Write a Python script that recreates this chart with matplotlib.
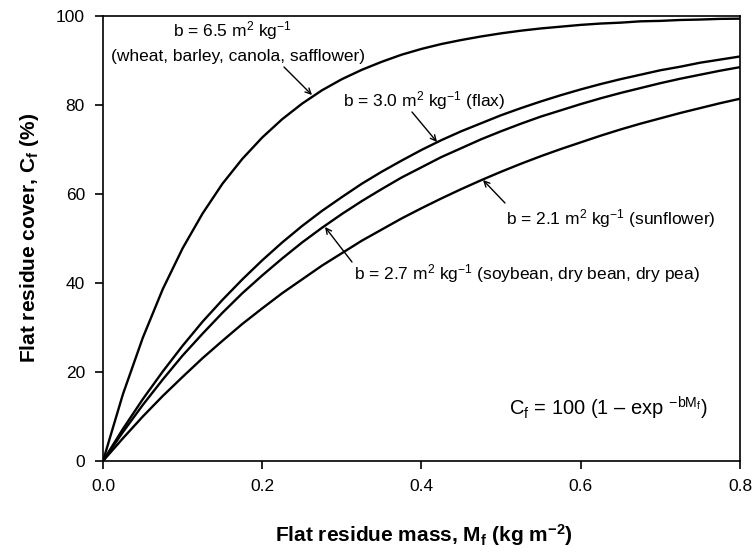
import matplotlib
matplotlib.use("Agg")
import matplotlib.pyplot as plt

plt.rcParams['font.family'] = ['Liberation Sans', 'DejaVu Sans']
plt.rcParams['mathtext.fontset'] = 'custom'
plt.rcParams['mathtext.rm'] = 'Liberation Sans'
plt.rcParams['mathtext.it'] = 'Liberation Sans:italic'
plt.rcParams['mathtext.bf'] = 'Liberation Sans:bold'

# Flat residue mass (kg m-2)
mass = [0.000, 0.025, 0.050, 0.075, 0.100, 0.125, 0.150, 0.175, 0.200, 0.225,
        0.250, 0.275, 0.300, 0.325, 0.350, 0.375, 0.400, 0.425, 0.450, 0.475,
        0.500, 0.525, 0.550, 0.575, 0.600, 0.625, 0.650, 0.675, 0.700, 0.725,
        0.750, 0.775, 0.800]

# Flat residue cover (%) for each b
cover_b65 = [0.0, 15.0, 27.7, 38.6, 47.8, 55.6, 62.3, 67.9, 72.7, 76.8,
             80.3, 83.3, 85.8, 87.9, 89.7, 91.3, 92.6, 93.7, 94.6, 95.4,
             96.1, 96.7, 97.2, 97.6, 98.0, 98.3, 98.5, 98.8, 98.9, 99.1,
             99.2, 99.35, 99.4]
cover_b30 = [0.0, 7.2, 13.9, 20.1, 25.9, 31.3, 36.2, 40.8, 45.1, 49.1,
             52.8, 56.2, 59.3, 62.3, 65.0, 67.5, 69.9, 72.1, 74.1, 75.9,
             77.7, 79.3, 80.8, 82.2, 83.5, 84.7, 85.8, 86.8, 87.8, 88.6,
             89.5, 90.2, 90.9]
cover_b27 = [0.0, 6.5, 12.6, 18.3, 23.7, 28.6, 33.3, 37.7, 41.7, 45.5,
             49.1, 52.4, 55.5, 58.4, 61.1, 63.7, 66.0, 68.3, 70.3, 72.3,
             74.1, 75.8, 77.4, 78.8, 80.2, 81.5, 82.7, 83.8, 84.9, 85.9,
             86.8, 87.7, 88.5]
cover_b21 = [0.0, 5.1, 10.0, 14.6, 18.9, 23.1, 27.0, 30.8, 34.3, 37.7,
             40.8, 43.9, 46.7, 49.5, 52.0, 54.5, 56.8, 59.0, 61.1, 63.1,
             65.0, 66.8, 68.5, 70.1, 71.6, 73.1, 74.5, 75.8, 77.0, 78.2,
             79.3, 80.4, 81.4]

xticks = [0.0, 0.2, 0.4, 0.6, 0.8]
xticklabels = ['0.0', '0.2', '0.4', '0.6', '0.8']
yticks = [0, 20, 40, 60, 80, 100]

fig = plt.figure(figsize=(7.53, 5.53), dpi=100)
ax = fig.add_axes([0.1368, 0.1664, 0.8459, 0.8047])

for c in (cover_b65, cover_b30, cover_b27, cover_b21):
    ax.plot(mass, c, color='black', lw=1.7, solid_capstyle='round')

ax.set_xlim(0, 0.8)
ax.set_ylim(0, 100)
ax.set_xticks(xticks)
ax.set_xticklabels(xticklabels)
ax.set_yticks(yticks)
ax.tick_params(direction='out', length=6, width=1.2, labelsize=12.5, pad=7,
               top=False, right=False)
for s in ax.spines.values():
    s.set_linewidth(1.2)


def px(x, y):
    # pixel -> figure fraction
    return (x / 753.0, 1 - y / 553.0)


fig.text(*px(424, 535), 'Flat residue mass, M$_\\mathbf{f}$ (kg m$^{\\mathbf{-2}}$)',
         fontsize=15, fontweight='bold', ha='center', va='center')
fig.text(*px(30, 238), 'Flat residue cover, C$_\\mathbf{f}$ (%)',
         fontsize=15, fontweight='bold', ha='center', va='center', rotation=90)

arrow = dict(arrowstyle='->', color='black', lw=1.0, shrinkA=0, shrinkB=0,
             mutation_scale=10)
fs = 12.5

# b = 6.5
fig.text(*px(232, 31), 'b = 6.5 m$^2$ kg$^{-1}$', ha='center', va='center', fontsize=fs)
fig.text(*px(238, 56), '(wheat, barley, canola, safflower)', ha='center', va='center', fontsize=fs)
ax.annotate('', xy=px(312, 95), xytext=px(284, 67), xycoords='figure fraction',
            textcoords='figure fraction', arrowprops=arrow)

# b = 3.0
fig.text(*px(343, 101), 'b = 3.0 m$^2$ kg$^{-1}$ (flax)', ha='left', va='center', fontsize=fs)
ax.annotate('', xy=px(437, 142), xytext=px(412, 112), xycoords='figure fraction',
            textcoords='figure fraction', arrowprops=arrow)

# b = 2.1
fig.text(*px(506, 219), 'b = 2.1 m$^2$ kg$^{-1}$ (sunflower)', ha='left', va='center', fontsize=fs)
ax.annotate('', xy=px(483, 180), xytext=px(505, 203), xycoords='figure fraction',
            textcoords='figure fraction', arrowprops=arrow)

# b = 2.7
fig.text(*px(354, 274), 'b = 2.7 m$^2$ kg$^{-1}$ (soybean, dry bean, dry pea)',
         ha='left', va='center', fontsize=fs)
ax.annotate('', xy=px(325, 227), xytext=px(352, 262), xycoords='figure fraction',
            textcoords='figure fraction', arrowprops=arrow)

# equation
fig.text(*px(708, 408), 'C$_\\mathrm{f}$ = 100 (1 \u2013 exp $^{-\\mathrm{bM}_\\mathrm{f}}$)',
         ha='right', va='center', fontsize=14.5)

fig.savefig('out.png', dpi=100)
